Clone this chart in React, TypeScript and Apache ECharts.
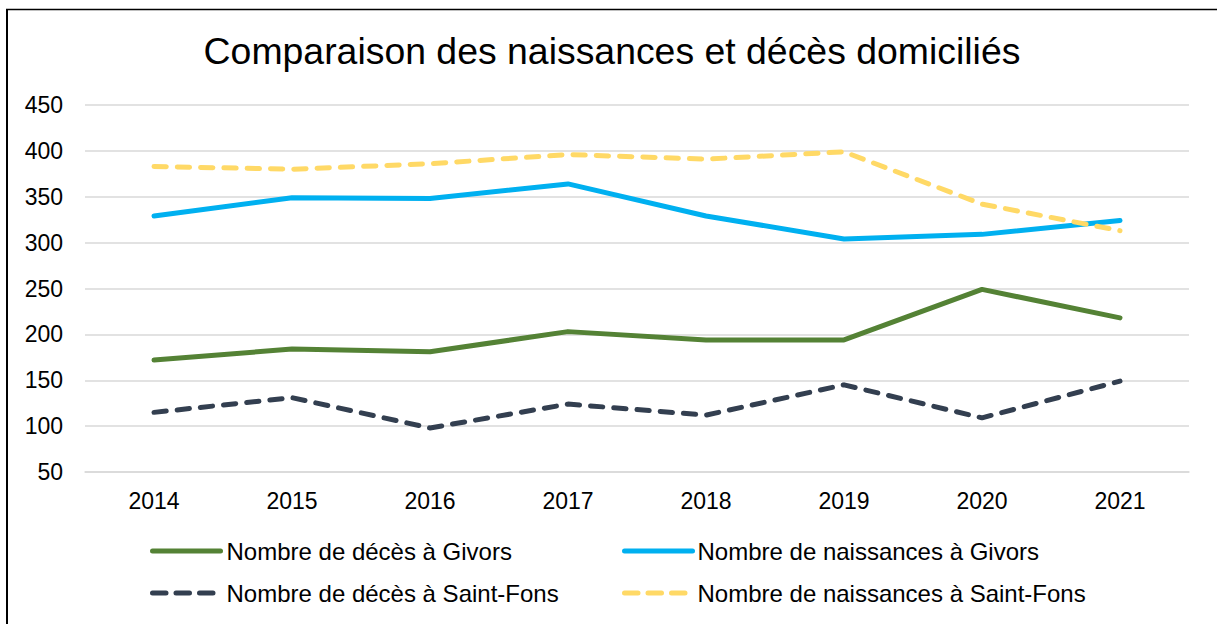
import React, { useEffect, useRef } from "react";
import * as echarts from "echarts";

const titleText = "Comparaison des naissances et décès domiciliés";
const years = ["2014", "2015", "2016", "2017", "2018", "2019", "2020", "2021"];
const decesGivors = [172, 184, 181, 203, 194, 194, 249, 218];
const naissancesGivors = [329, 349, 348, 364, 329, 304, 309, 324];
const decesSaintFons = [115, 131, 98, 124, 112, 145, 109, 149];
const naissancesSaintFons = [383, 380, 386, 396, 391, 399, 342, 313];
const seriesNames = [
  "Nombre de décès à Givors",
  "Nombre de naissances à Givors",
  "Nombre de décès à Saint-Fons",
  "Nombre de naissances à Saint-Fons",
];
const yTicks = { min: 50, max: 450, interval: 50 };

const FONT = "Liberation Sans, Arial, sans-serif";

export default function App() {
  const ref = useRef<HTMLDivElement>(null);
  useEffect(() => {
    if (!ref.current) return;
    const chart = echarts.init(ref.current, undefined, { renderer: "svg" });
    const LW = 5;
    const dash = [12.3, 11];
    const mkSeries = (name: string, data: number[], color: string, dashed: boolean) => ({
      name,
      type: "line",
      data,
      symbol: "none",
      smooth: false,
      lineStyle: {
        color,
        width: LW,
        type: dashed ? dash : "solid",
        cap: "round",
        join: "round",
      },
      itemStyle: { color },
      emphasis: { disabled: true },
    });
    const mkLegend = (name: string, left: number, top: number, dashed: boolean, textPad: number) => ({
      data: [name],
      left,
      top,
      itemWidth: 68,
      itemHeight: 14,
      itemGap: 5,
      padding: 0,
      selectedMode: false,
      itemStyle: { opacity: 0 },
      lineStyle: { width: LW, type: dashed ? [13.5, 10] : "solid", cap: "round" },
      textStyle: {
        fontSize: 24,
        color: "#000",
        fontFamily: FONT,
        lineHeight: 24,
        padding: [0, 0, 0, textPad],
      },
    });
    chart.setOption({
      animation: false,
      backgroundColor: "#fff",
      textStyle: { fontFamily: FONT },
      title: {
        text: titleText,
        left: 612,
        textAlign: "center",
        top: 32,
        padding: 0,
        textStyle: { fontSize: 37.4, fontWeight: "normal", color: "#000", fontFamily: FONT },
      },
      legend: [
        mkLegend(seriesNames[0], 150, 539, false, 1),
        mkLegend(seriesNames[1], 622, 539, false, 0),
        mkLegend(seriesNames[2], 150, 581, true, 1),
        mkLegend(seriesNames[3], 622, 581, true, 0),
      ],
      grid: { left: 85, right: 28, top: 105, bottom: 152, containLabel: false },
      xAxis: {
        type: "category",
        data: years,
        boundaryGap: true,
        axisLine: { show: true, lineStyle: { color: "#d9d9d9", width: 1.5 } },
        axisTick: { show: false },
        axisLabel: { fontSize: 23, color: "#000", margin: 17, fontFamily: FONT },
      },
      yAxis: {
        type: "value",
        min: yTicks.min,
        max: yTicks.max,
        interval: yTicks.interval,
        axisLine: { show: false },
        axisTick: { show: false },
        axisLabel: { fontSize: 23, color: "#000", margin: 22, fontFamily: FONT },
        splitLine: { show: true, lineStyle: { color: "#d9d9d9", width: 1.5 } },
      },
      graphic: [
        { type: "line", shape: { x1: 7, y1: 9, x2: 7, y2: 630 }, style: { stroke: "#000", lineWidth: 2 } },
        { type: "line", shape: { x1: 6, y1: 9.5, x2: 1220, y2: 9.5 }, style: { stroke: "#000", lineWidth: 1.5 } },
      ],
      series: [
        mkSeries(seriesNames[0], decesGivors, "#548235", false),
        mkSeries(seriesNames[1], naissancesGivors, "#00b0f0", false),
        mkSeries(seriesNames[2], decesSaintFons, "#333f50", true),
        mkSeries(seriesNames[3], naissancesSaintFons, "#ffd966", true),
      ],
    });
    return () => chart.dispose();
  }, []);
  return (
    <div
      ref={ref}
      style={{ position: "fixed", left: 0, top: 0, width: 1217, height: 624, background: "#fff" }}
    />
  );
}
